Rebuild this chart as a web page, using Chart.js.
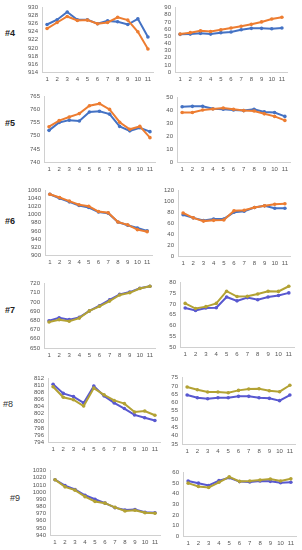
<!DOCTYPE html>
<html>
<head>
<meta charset="utf-8">
<script src="https://cdn.jsdelivr.net/npm/chart.js@4"></script>
<style>
    body { margin: 0; background: #fff; width: 302px; height: 550px; position: relative; overflow: hidden; font-family: "Liberation Sans", Arial, sans-serif; }
    canvas { position: absolute; }
    .lab { position: absolute; font-size: 9px; font-weight: bold; color: #222; line-height: 10px; }
    .lab.thin { font-weight: normal; color: #333; }
</style>
</head>
<body>
<div class="lab" style="left:5px;top:28px">#4</div>
<div class="lab" style="left:5px;top:118px">#5</div>
<div class="lab" style="left:5px;top:216px">#6</div>
<div class="lab" style="left:5px;top:305px">#7</div>
<div class="lab thin" style="left:3px;top:399px">#8</div>
<div class="lab thin" style="left:10px;top:493px">#9</div>
<script>
// x categories shared by every panel
const xLabels = ['1', '2', '3', '4', '5', '6', '7', '8', '9', '10', '11'];

// #4
const p4LeftBlue = [925.8, 927.0, 928.9, 927.0, 927.0, 926.0, 926.7, 926.5, 925.8, 927.2, 922.7];
const p4LeftOrange = [924.8, 926.3, 927.8, 926.8, 926.9, 926.0, 926.3, 927.6, 926.9, 924.0, 919.7];
const p4RightBlue = [52.6, 53, 54, 53, 55, 56, 59, 61, 61, 60.5, 61.5];
const p4RightOrange = [53, 55, 57.5, 56.7, 59, 61.5, 64, 66.6, 70, 74, 76.5];

// #5
const p5LeftBlue = [752.1, 755.1, 756.0, 755.7, 759.1, 759.4, 758.3, 753.6, 751.9, 753.1, 751.6];
const p5LeftOrange = [753.5, 755.8, 757.2, 758.5, 761.5, 762.3, 760.1, 755.2, 752.5, 753.6, 749.3];
const p5RightBlue = [42.9, 43.2, 43.2, 41.4, 40.9, 40.4, 39.9, 40.9, 38.9, 38.4, 35.4];
const p5RightOrange = [38.4, 38.4, 40.4, 41.2, 41.9, 40.9, 39.9, 39.6, 37.4, 35.4, 32.3];

// #6
const p6LeftBlue = [1051, 1041, 1032, 1023, 1018, 1007, 1004, 982, 974, 967, 960];
const p6LeftOrange = [1051, 1043, 1034, 1025, 1021, 1008, 1005, 982, 975, 963, 958];
const p6RightBlue = [75.6, 70, 65, 68, 68, 80.4, 82, 89, 92, 87.6, 87.6];
const p6RightOrange = [79, 70, 64, 65.4, 66, 83, 84, 89, 92, 95, 96];

// #7
const p7LeftPurple = [679.7, 682.9, 680.8, 683.3, 690.3, 696, 702.3, 708.3, 710.8, 715, 717.2];
const p7LeftGold = [678.3, 680.8, 679, 682.5, 690.3, 695.3, 701, 707.6, 710, 714.7, 717.2];
const p7RightPurple = [68.2, 67, 68.2, 68.3, 73.3, 71.5, 73, 72, 73.3, 74, 75.2];
const p7RightGold = [70.3, 67.9, 68.8, 70.3, 76, 73.5, 73.6, 74.7, 76, 75.9, 78.3];

// #8
const p8LeftPurple = [810.4, 807.8, 806.9, 805.1, 809.9, 807.1, 805.1, 803.5, 801.7, 800.9, 800.1];
const p8LeftGold = [809.7, 806.7, 806.0, 804.2, 809.3, 807.4, 805.8, 804.9, 802.5, 802.8, 801.6];
const p8RightPurple = [64.5, 62.9, 62.3, 62.9, 62.9, 63.7, 63.7, 62.9, 62.5, 61.1, 64.5];
const p8RightGold = [69.3, 67.7, 66.3, 66.3, 65.9, 67.3, 68.1, 68.3, 67.1, 66.5, 70.4];

// #9
const p9LeftPurple = [1017.3, 1009, 1003.6, 995.5, 990, 984.5, 978.2, 975, 975.5, 971.8, 971];
const p9LeftGold = [1017.3, 1007.3, 1002.7, 993.6, 986.8, 984.5, 978.6, 973.6, 974.5, 971, 970.5];
const p9RightPurple = [52, 50, 47.8, 52.4, 55.1, 51.5, 51.1, 52, 51.7, 50.5, 50.8];
const p9RightGold = [50, 46.9, 45.9, 50.8, 56, 51.7, 52, 52.9, 53.9, 52, 54.1];

const BLUE = '#4472C4', ORANGE = '#ED7D31';
const PURPLE = '#5858D0', GOLD = '#B3A234';

// axisX = y axis line, top/bottom = y of max/min tick, right = end of x axis
function makeChart(box, yMin, yMax, yStep, under, over, colUnder, colOver) {
    const padTop = 6, padR = 2, xh = 14;
    const canvas = document.createElement('canvas');
    const w = box.right + padR - box.canvasLeft;
    const h = box.bottom - box.top + padTop + xh;
    canvas.width = w;
    canvas.height = h;
    canvas.style.left = box.canvasLeft + 'px';
    canvas.style.top = (box.top - padTop) + 'px';
    canvas.style.width = w + 'px';
    canvas.style.height = h + 'px';
    document.body.appendChild(canvas);

    const tickFont = { family: '"Liberation Sans", Arial, sans-serif', size: 6 };
    new Chart(canvas.getContext('2d'), {
        type: 'line',
        data: {
            labels: xLabels,
            datasets: [
                { data: under, borderColor: colUnder, backgroundColor: colUnder, order: 1 },
                { data: over, borderColor: colOver, backgroundColor: colOver, order: 0 }
            ]
        },
        options: {
            responsive: false,
            animation: false,
            devicePixelRatio: 1,
            layout: { padding: { top: padTop, right: padR, left: 0, bottom: 0 } },
            elements: {
                line: { borderWidth: 2, tension: 0 },
                point: { radius: 1.8, borderWidth: 0, pointStyle: 'circle' }
            },
            plugins: { legend: { display: false }, tooltip: { enabled: false } },
            scales: {
                x: {
                    offset: true,
                    grid: { display: false, drawTicks: false },
                    border: { display: true, color: '#d0d0d0', width: 1 },
                    ticks: { font: tickFont, color: '#555', padding: 4, maxRotation: 0, autoSkip: false },
                    afterFit: s => { s.height = xh; }
                },
                y: {
                    min: yMin,
                    max: yMax,
                    grid: { display: false, drawTicks: false },
                    border: { display: true, color: '#d0d0d0', width: 1 },
                    ticks: {
                        stepSize: yStep, font: tickFont, color: '#555', padding: 4, autoSkip: false,
                        callback: v => String(v)
                    },
                    afterFit: s => { s.width = box.axisX - box.canvasLeft; }
                }
            }
        }
    });
}

makeChart({ canvasLeft: 18, axisX: 42, top: 6, bottom: 72, right: 155 }, 914, 930, 2, p4LeftBlue, p4LeftOrange, BLUE, ORANGE);
makeChart({ canvasLeft: 158, axisX: 175, top: 6, bottom: 72, right: 289 }, 0, 90, 10, p4RightBlue, p4RightOrange, BLUE, ORANGE);

makeChart({ canvasLeft: 18, axisX: 44, top: 95, bottom: 162, right: 157 }, 740, 765, 5, p5LeftBlue, p5LeftOrange, BLUE, ORANGE);
makeChart({ canvasLeft: 160, axisX: 177, top: 96, bottom: 162, right: 292 }, 0, 50, 10, p5RightBlue, p5RightOrange, BLUE, ORANGE);

makeChart({ canvasLeft: 18, axisX: 45, top: 189, bottom: 255, right: 154 }, 900, 1060, 20, p6LeftBlue, p6LeftOrange, BLUE, ORANGE);
makeChart({ canvasLeft: 160, axisX: 178, top: 189, bottom: 256, right: 292 }, 0, 120, 20, p6RightBlue, p6RightOrange, BLUE, ORANGE);

makeChart({ canvasLeft: 18, axisX: 44, top: 282, bottom: 348, right: 157 }, 650, 720, 10, p7LeftPurple, p7LeftGold, PURPLE, GOLD);
makeChart({ canvasLeft: 160, axisX: 180, top: 281, bottom: 347, right: 296 }, 50, 80, 5, p7RightPurple, p7RightGold, PURPLE, GOLD);

makeChart({ canvasLeft: 18, axisX: 48, top: 377, bottom: 442, right: 162 }, 794, 812, 2, p8LeftPurple, p8LeftGold, PURPLE, GOLD);
makeChart({ canvasLeft: 163, axisX: 182, top: 376, bottom: 444, right: 297 }, 35, 75, 5, p8RightPurple, p8RightGold, PURPLE, GOLD);

makeChart({ canvasLeft: 18, axisX: 50, top: 469, bottom: 535, right: 162 }, 940, 1030, 10, p9LeftPurple, p9LeftGold, PURPLE, GOLD);
makeChart({ canvasLeft: 163, axisX: 183, top: 471, bottom: 536, right: 298 }, 0, 60, 10, p9RightPurple, p9RightGold, PURPLE, GOLD);
</script>
</body>
</html>
